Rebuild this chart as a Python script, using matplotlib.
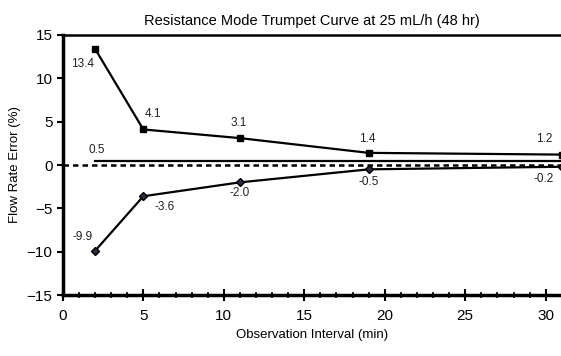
import numpy as np
import matplotlib
matplotlib.use("Agg")
import matplotlib.pyplot as plt
from matplotlib.ticker import MultipleLocator

# data
x_obs = [2, 5, 11, 19, 31]
upper = [13.4, 4.1, 3.1, 1.4, 1.2]
lower = [-9.9, -3.6, -2.0, -0.5, -0.2]
mean_x = [2, 31]
mean_val = 0.5

plt.rcParams['font.family'] = ['Liberation Sans', 'DejaVu Sans']

fig = plt.figure(figsize=(5.61, 3.56), dpi=100)
ax = fig.add_axes([0.112, 0.171, 0.888, 0.731])

ax.axhline(0, color="black", lw=1.8, ls=(0, (2.2, 1.6)), xmin=0, xmax=1)
ax.plot(mean_x, [mean_val, mean_val], color="black", lw=1.6, clip_on=False)
ax.plot(x_obs, upper, color="black", lw=1.6, marker="s", ms=4.5, clip_on=False)
ax.plot(x_obs, lower, color="black", lw=1.6, marker="D", ms=4.5,
        mfc="#2a2a40", clip_on=False)

# point labels (offsets in points)
up_off = [(-9, -11), (7, 11), (-1, 11), (-1, 10), (-13, 11)]
lo_off = [(-9, 10), (15, -8), (0, -8), (0, -9), (-13, -9)]
for xv, yv, (dx, dy) in zip(x_obs, upper, up_off):
    ax.annotate(f"{yv:.1f}", (xv, yv), xytext=(dx, dy), textcoords="offset points",
                ha="center", va="center", fontsize=8.5, color="#222222",
                annotation_clip=False)
for xv, yv, (dx, dy) in zip(x_obs, lower, lo_off):
    ax.annotate(f"{yv:.1f}", (xv, yv), xytext=(dx, dy), textcoords="offset points",
                ha="center", va="center", fontsize=8.5, color="#222222",
                annotation_clip=False)
ax.annotate(f"{mean_val:.1f}", (mean_x[0], mean_val), xytext=(1, 8),
            textcoords="offset points", ha="center", va="center",
            fontsize=8.5, color="#222222")

ax.set_xlim(0, 30.95)
ax.set_ylim(-15, 15)
ax.xaxis.set_major_locator(MultipleLocator(5))
ax.xaxis.set_minor_locator(MultipleLocator(1))
ax.yaxis.set_major_locator(MultipleLocator(5))

ax.spines["left"].set_linewidth(2.5)
ax.spines["bottom"].set_linewidth(2.5)
ax.spines["top"].set_linewidth(1.8)
ax.spines["right"].set_visible(False)
ax.tick_params(axis="x", which="major", direction="inout", length=8, width=1.5,
               labelsize=11, pad=6)
ax.tick_params(axis="x", which="minor", direction="inout", length=5, width=1.2)
ax.tick_params(axis="y", which="major", direction="out", length=4, width=1.5,
               labelsize=11)

ax.set_title("Resistance Mode Trumpet Curve at 25 mL/h (48 hr)", fontsize=10.5, pad=7)
ax.set_xlabel("Observation Interval (min)", fontsize=9.5)
ax.set_ylabel("Flow Rate Error (%)", fontsize=9.5)

fig.savefig("out.png", dpi=100)
